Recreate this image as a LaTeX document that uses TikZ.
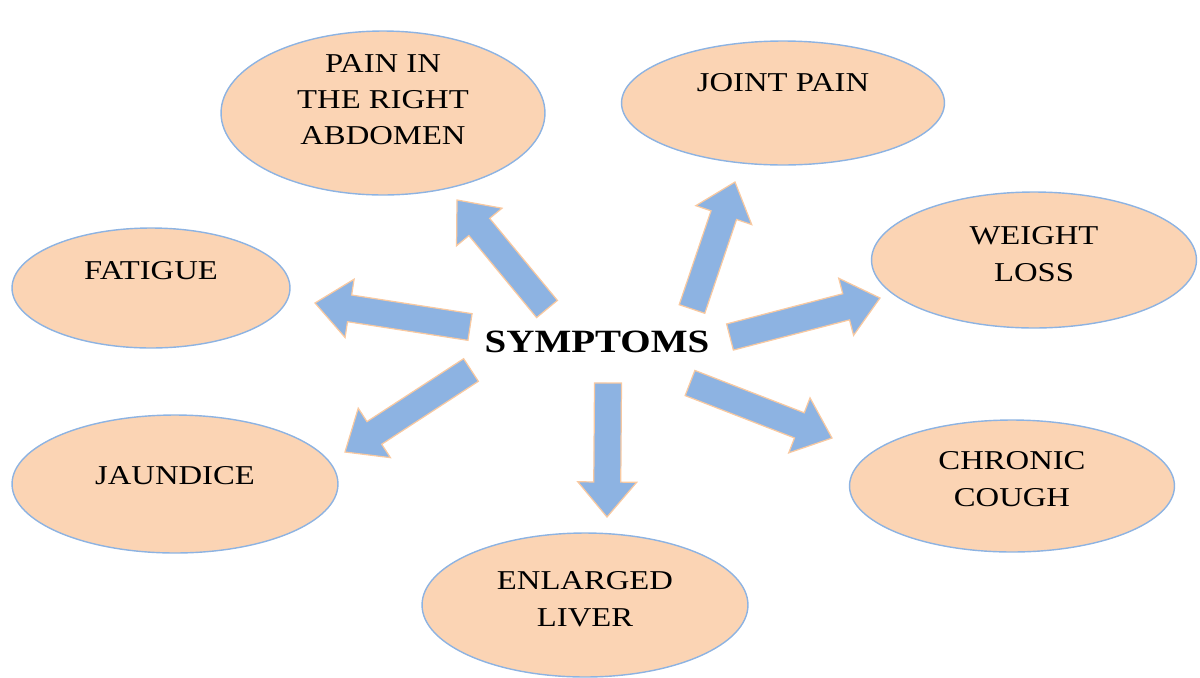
\documentclass[tikz,border=0pt]{standalone}
\usepackage{fontspec}
\setmainfont{Liberation Serif}[FakeStretch=1.2]
\usepackage{tikz}
\usetikzlibrary{positioning, calc, shapes.geometric}
\definecolor{sympeach}{HTML}{FBD4B4}
\definecolor{symedge}{HTML}{8DB3E2}
\definecolor{symblue}{HTML}{8DB3E2}
\definecolor{symrim}{HTML}{F9C9A0}

% block arrow from #1 to #2
\newcommand{\blockarrow}[2]{%
  \path ($(#2)!0.7cm!(#1)$) coordinate (#2-b);
  \filldraw[arrowbody]
    ($(#1)!0.27cm!90:(#2)$) -- ($(#2-b)!0.27cm!90:(#2)$) -- ($(#2-b)!0.59cm!90:(#2)$)
    -- (#2)
    -- ($(#2-b)!0.59cm!-90:(#2)$) -- ($(#2-b)!0.27cm!-90:(#2)$) -- ($(#1)!0.27cm!-90:(#2)$) -- cycle;}

\begin{document}
\begin{tikzpicture}[x=0.02cm, y=-0.02cm,
    every node/.style={align=center, font=\fontsize{15.5}{20.7}\selectfont},
    oval/.style={ellipse, draw=symedge, line width=0.8pt, fill=sympeach, inner sep=0pt, text height=0pt, text depth=0pt},
    arrowbody/.style={fill=symblue, draw=symrim, line width=0.7pt, line join=miter}]
    \useasboundingbox (0,0) rectangle (1200,677);

    \node[oval, minimum width=6.48cm, minimum height=3.28cm, text height=1.28cm] (abdomen) at (383,113)
      {PAIN IN\\THE RIGHT\\ABDOMEN};
    \node[oval, minimum width=6.46cm, minimum height=2.48cm, text depth=0.48cm] (joint) at (783,103)
      {JOINT PAIN};
    \node[oval, minimum width=6.5cm, minimum height=2.72cm, text height=0.84cm] (weight) at (1034,260)
      {WEIGHT\\LOSS};
    \node[oval, minimum width=5.56cm, minimum height=2.4cm, text depth=0.36cm] (fatigue) at (151,288)
      {FATIGUE};
    \node[oval, minimum width=6.52cm, minimum height=2.76cm] (jaundice) at (175,484)
      {JAUNDICE};
    \node[oval, minimum width=6.5cm, minimum height=2.64cm, text height=0.8cm] (cough) at (1012,486)
      {CHRONIC\\COUGH};
    \node[oval, minimum width=6.52cm, minimum height=2.88cm, text height=0.84cm] (liver) at (585,605)
      {ENLARGED\\LIVER};

    \node[font=\fontsize{18.5}{22}\selectfont\bfseries] (symptoms) at (597,342) {SYMPTOMS};

    % arrow ends
    \coordinate (abdomen-s) at (547,309);  \coordinate (abdomen-e) at (457,200);
    \coordinate (joint-s) at (692,309);    \coordinate (joint-e) at (735,182);
    \coordinate (fatigue-s) at (470,327);  \coordinate (fatigue-e) at (315,303);
    \coordinate (jaundice-s) at (471,370); \coordinate (jaundice-e) at (345,452);
    \coordinate (weight-s) at (730,337);   \coordinate (weight-e) at (880,298);
    \coordinate (cough-s) at (690,383);    \coordinate (cough-e) at (832,438);
    \coordinate (liver-s) at (608,383);    \coordinate (liver-e) at (607,517);

    \blockarrow{abdomen-s}{abdomen-e}
    \blockarrow{joint-s}{joint-e}
    \blockarrow{fatigue-s}{fatigue-e}
    \blockarrow{jaundice-s}{jaundice-e}
    \blockarrow{weight-s}{weight-e}
    \blockarrow{cough-s}{cough-e}
    \blockarrow{liver-s}{liver-e}
\end{tikzpicture}
\end{document}
